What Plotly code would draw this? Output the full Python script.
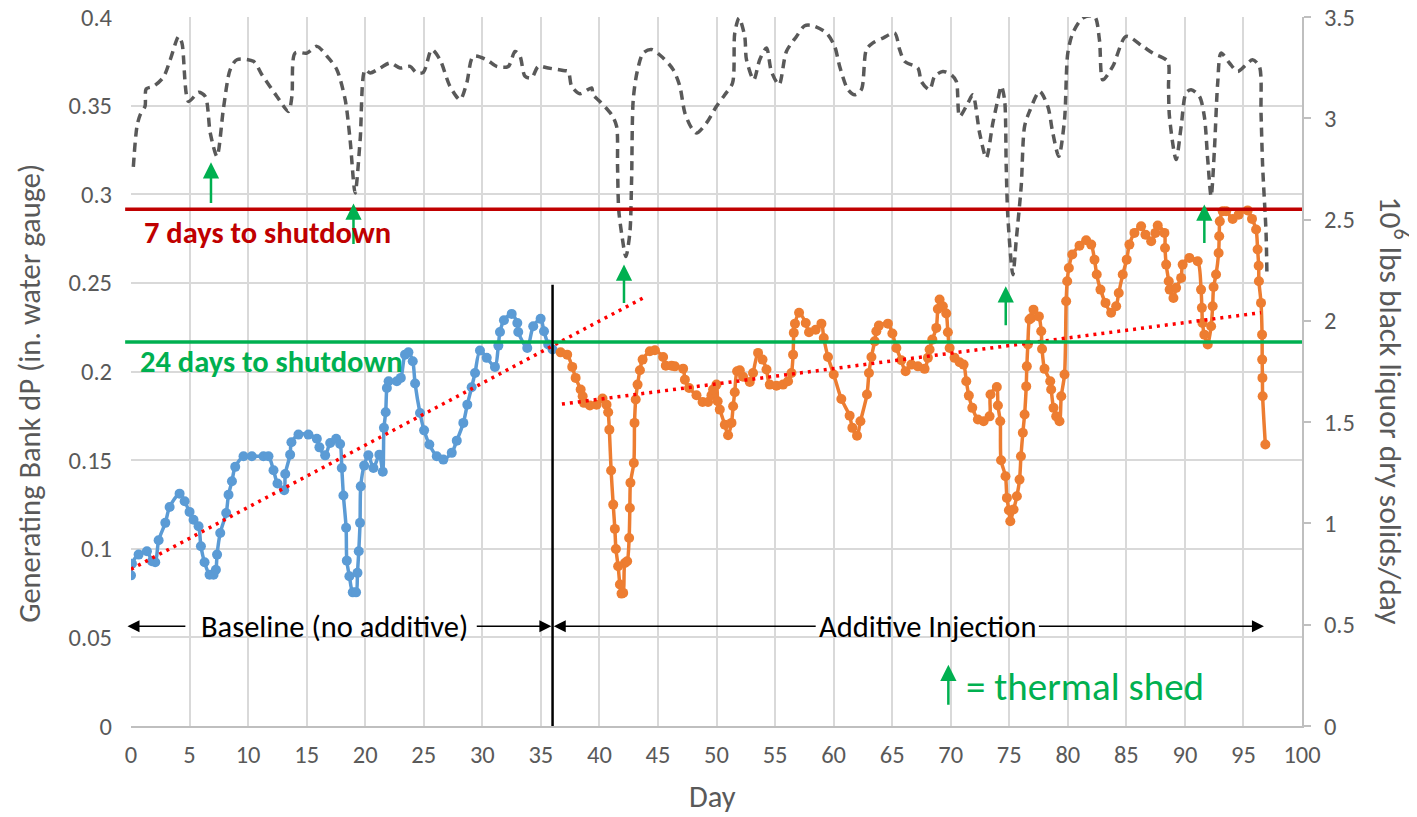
import plotly.graph_objects as go

# ---------------- data ----------------
baseline_day = [0.0, 0.08, 0.65, 1.36, 1.79, 2.07, 2.36, 2.93, 3.30, 4.15,
                4.58, 5.00, 5.34, 5.77, 5.97, 6.28, 6.71, 7.05, 7.25, 7.35,
                7.62, 8.13, 8.33, 8.62, 8.90, 9.61, 10.32, 11.31, 11.74, 12.17,
                12.51, 13.08, 13.17, 13.59, 13.70, 14.30, 15.15, 15.87, 16.09, 16.58,
                17.01, 17.52, 17.86, 18.00, 18.14, 18.37, 18.43, 18.65, 18.94, 19.22,
                19.34, 19.45, 19.56, 19.62, 19.91, 20.27, 20.70, 21.21, 21.50, 21.60,
                21.75, 21.85, 22.00, 22.70, 23.04, 23.40, 23.69, 24.06, 24.26, 24.68,
                25.03, 25.48, 26.11, 26.67, 27.39, 27.82, 28.38, 28.72, 29.09, 29.38,
                29.80, 30.38, 31.08, 31.37, 31.51, 31.85, 32.51, 32.99, 33.07, 33.84,
                34.35, 34.98, 35.27, 35.63, 36.00]
baseline_dp = [0.085, 0.0916, 0.0967, 0.0986, 0.0929, 0.0924, 0.1048, 0.1146, 0.1236, 0.1311,
               0.1268, 0.1208, 0.1164, 0.1127, 0.1014, 0.0924, 0.0854, 0.0854, 0.0882, 0.0967,
               0.1089, 0.1202, 0.1305, 0.1381, 0.1462, 0.1522, 0.1522, 0.1522, 0.1522, 0.1443,
               0.1368, 0.1330, 0.1422, 0.1531, 0.1601, 0.1644, 0.1644, 0.1621, 0.1572, 0.1527,
               0.1597, 0.1621, 0.1591, 0.1456, 0.1300, 0.1118, 0.0933, 0.0845, 0.0754, 0.0754,
               0.0864, 0.0986, 0.1146, 0.1352, 0.1469, 0.1527, 0.1456, 0.1531, 0.1434, 0.1682,
               0.1770, 0.1907, 0.1945, 0.1945, 0.1964, 0.2095, 0.2108, 0.2058, 0.1932, 0.1766,
               0.1668, 0.1588, 0.1522, 0.1503, 0.1541, 0.1610, 0.1710, 0.1813, 0.1911, 0.1992,
               0.2118, 0.2077, 0.2026, 0.2146, 0.2223, 0.2289, 0.2325, 0.2274, 0.2223, 0.2133,
               0.2255, 0.2297, 0.2227, 0.2152, 0.2124]

additive_day = [36.69, 37.25, 37.68, 37.97, 38.40, 38.57, 38.68, 39.19, 39.76, 40.27,
                40.61, 40.75, 40.85, 41.00, 41.18, 41.32, 41.41, 41.60, 41.75, 41.89,
                42.03, 42.18, 42.37, 42.54, 42.60, 42.65, 42.94, 43.00, 43.10, 43.26,
                43.46, 43.69, 44.31, 44.74, 45.44, 45.67, 46.16, 46.44, 47.15, 47.30,
                47.66, 48.29, 48.81, 49.28, 49.57, 49.71, 50.00, 50.10, 50.28, 50.71,
                50.99, 51.28, 51.42, 51.56, 51.76, 51.99, 52.27, 52.84, 53.12, 53.55,
                53.93, 54.27, 54.55, 55.12, 55.68, 56.11, 56.40, 56.54, 56.60, 56.70,
                57.05, 57.62, 57.90, 58.47, 58.96, 59.16, 59.52, 60.01, 60.66, 61.37,
                61.60, 62.00, 62.29, 62.85, 63.02, 63.23, 63.51, 63.65, 63.87, 64.64,
                65.02, 65.36, 65.78, 66.15, 66.64, 67.20, 67.77, 68.05, 68.20, 68.43,
                68.77, 68.90, 69.05, 69.33, 69.62, 69.76, 69.91, 70.33, 70.76, 71.10,
                71.33, 71.55, 71.84, 72.32, 72.81, 73.32, 73.40, 73.94, 74.03, 74.23,
                74.30, 74.68, 74.80, 74.97, 75.09, 75.37, 75.65, 75.88, 76.00, 76.16,
                76.31, 76.45, 76.50, 76.59, 76.73, 76.88, 77.07, 77.53, 77.73, 77.80,
                78.01, 78.50, 78.58, 78.78, 79.01, 79.29, 79.44, 79.72, 79.86, 79.95,
                80.09, 80.38, 81.00, 81.57, 82.00, 82.28, 82.47, 82.79, 83.22, 83.70,
                84.13, 84.35, 84.69, 85.03, 85.26, 85.69, 86.26, 86.63, 87.12, 87.48,
                87.68, 88.25, 88.30, 88.40, 88.62, 88.70, 89.02, 89.25, 89.68, 89.81,
                90.38, 91.09, 91.38, 91.45, 91.50, 91.66, 91.95, 92.24, 92.37, 92.45,
                92.66, 92.88, 92.93, 92.98, 93.23, 93.52, 94.08, 94.59, 95.36, 95.73,
                96.08, 96.21, 96.30, 96.32, 96.50, 96.59, 96.60, 96.62, 96.64, 96.87]
additive_dp = [0.2108, 0.2095, 0.2026, 0.1964, 0.1898, 0.1860, 0.1823, 0.1808, 0.1813, 0.1847,
               0.1813, 0.1770, 0.1672, 0.1441, 0.1249, 0.1112, 0.0999, 0.0901, 0.0798, 0.0747,
               0.0751, 0.0920, 0.0929, 0.1061, 0.1230, 0.1372, 0.1484, 0.1710, 0.1842, 0.1926,
               0.2007, 0.2067, 0.2114, 0.2120, 0.2082, 0.2033, 0.2033, 0.2029, 0.2016, 0.1954,
               0.1907, 0.1866, 0.1828, 0.1828, 0.1866, 0.1898, 0.1926, 0.1832, 0.1785, 0.1700,
               0.1640, 0.1710, 0.1804, 0.1883, 0.2001, 0.2007, 0.1970, 0.1941, 0.1992, 0.2105,
               0.2067, 0.2011, 0.1926, 0.1920, 0.1926, 0.1945, 0.1992, 0.2095, 0.2218, 0.2270,
               0.2331, 0.2274, 0.2221, 0.2236, 0.2270, 0.2189, 0.2082, 0.1983, 0.1845, 0.1751,
               0.1682, 0.1638, 0.1719, 0.1870, 0.1992, 0.2082, 0.2170, 0.2227, 0.2259, 0.2270,
               0.2214, 0.2133, 0.2063, 0.2001, 0.2039, 0.2029, 0.2015, 0.2077, 0.2124, 0.2180,
               0.2246, 0.2353, 0.2406, 0.2368, 0.2327, 0.2221, 0.2133, 0.2077, 0.2052, 0.2039,
               0.1945, 0.1864, 0.1795, 0.1729, 0.1719, 0.1747, 0.1870, 0.1913, 0.1808, 0.1719,
               0.1499, 0.1409, 0.1287, 0.1217, 0.1155, 0.1221, 0.1296, 0.1390, 0.1522, 0.1654,
               0.1757, 0.1916, 0.2029, 0.2152, 0.2293, 0.2302, 0.2349, 0.2311, 0.2227, 0.2127,
               0.2015, 0.1945, 0.1898, 0.1795, 0.1747, 0.1719, 0.1860, 0.1983, 0.2396, 0.2509,
               0.2584, 0.2660, 0.2710, 0.2740, 0.2716, 0.2631, 0.2547, 0.2462, 0.2387, 0.2331,
               0.2368, 0.2443, 0.2547, 0.2631, 0.2716, 0.2782, 0.2819, 0.2772, 0.2735, 0.2782,
               0.2823, 0.2782, 0.2697, 0.2603, 0.2509, 0.2462, 0.2415, 0.2472, 0.2528, 0.2603,
               0.2641, 0.2622, 0.2462, 0.2359, 0.2274, 0.2208, 0.2152, 0.2255, 0.2368, 0.2477,
               0.2547, 0.2669, 0.2763, 0.2847, 0.2904, 0.2904, 0.2861, 0.2885, 0.2909, 0.2861,
               0.2801, 0.2688, 0.2597, 0.2509, 0.2387, 0.2208, 0.2067, 0.1964, 0.1860, 0.1588]

solids_day = [0.20, 0.51, 0.79, 1.20, 1.30, 1.93, 2.78, 3.35, 4.07, 4.35,
              4.92, 5.77, 6.34, 6.77, 7.34, 7.90, 8.47, 9.04, 10.46, 11.18,
              12.46, 13.45, 13.74, 14.02, 15.02, 15.87, 16.86, 17.58, 18.29, 18.71,
              19.14, 19.57, 19.99, 20.42, 21.27, 22.13, 22.98, 23.83, 24.40, 24.97,
              25.68, 26.39, 27.24, 28.10, 28.67, 29.23, 30.37, 31.23, 32.22, 32.79,
              33.22, 33.65, 34.21, 34.78, 35.63, 36.91, 37.34, 37.63, 38.34, 39.33,
              39.47, 40.04, 41.04, 41.47, 41.55, 41.65, 41.89, 42.26, 42.60, 42.75,
              42.89, 43.23, 43.74, 44.45, 45.44, 46.30, 46.87, 47.30, 47.87, 48.29,
              49.15, 50.00, 50.71, 51.37, 51.56, 51.93, 52.41, 52.56, 53.18, 53.69,
              54.27, 54.69, 55.34, 55.97, 56.83, 57.53, 58.24, 59.39, 60.09, 60.52,
              61.23, 61.80, 62.37, 62.80, 63.36, 64.22, 65.21, 65.64, 66.07, 67.20,
              67.49, 68.20, 68.63, 69.33, 70.05, 70.48, 70.76, 71.47, 71.89, 72.47,
              73.04, 73.60, 74.03, 74.32, 74.60, 74.74, 74.88, 75.31, 75.60, 76.02,
              76.31, 76.73, 77.59, 78.29, 78.72, 79.23, 79.72, 80.00, 80.43, 81.28,
              82.28, 82.70, 82.99, 83.84, 84.98, 86.40, 87.25, 88.53, 88.60, 88.68,
              89.25, 89.68, 90.10, 90.53, 91.24, 91.66, 91.95, 92.24, 92.52, 92.80,
              93.09, 93.80, 94.51, 95.22, 95.78, 96.36, 96.50, 96.64, 96.93, 97.00]
solids_rate = [2.760, 2.960, 3.018, 3.059, 3.145, 3.158, 3.204, 3.289, 3.404, 3.372,
               3.083, 3.128, 3.108, 2.927, 2.812, 3.051, 3.240, 3.289, 3.281, 3.215,
               3.108, 3.034, 3.108, 3.322, 3.322, 3.355, 3.298, 3.240, 3.092, 2.894,
               2.631, 2.894, 3.240, 3.224, 3.248, 3.273, 3.248, 3.256, 3.224, 3.227,
               3.339, 3.289, 3.158, 3.092, 3.174, 3.306, 3.289, 3.256, 3.256, 3.330,
               3.306, 3.207, 3.199, 3.256, 3.248, 3.236, 3.231, 3.158, 3.121, 3.150,
               3.116, 3.083, 3.018, 2.960, 2.763, 2.549, 2.434, 2.318, 2.434, 2.697,
               3.092, 3.231, 3.322, 3.339, 3.298, 3.240, 3.158, 3.026, 2.952, 2.927,
               2.977, 3.059, 3.116, 3.174, 3.421, 3.495, 3.404, 3.289, 3.190, 3.289,
               3.347, 3.231, 3.166, 3.330, 3.404, 3.457, 3.457, 3.421, 3.355, 3.256,
               3.141, 3.116, 3.141, 3.339, 3.372, 3.396, 3.421, 3.339, 3.281, 3.248,
               3.182, 3.141, 3.207, 3.231, 3.215, 3.182, 3.009, 3.075, 3.116, 2.927,
               2.804, 2.977, 3.092, 3.158, 3.092, 2.763, 2.516, 2.228, 2.401, 2.664,
               2.960, 3.034, 3.133, 3.059, 2.927, 2.812, 2.993, 3.322, 3.421, 3.495,
               3.503, 3.388, 3.190, 3.256, 3.404, 3.355, 3.322, 3.281, 3.158, 3.009,
               2.796, 2.960, 3.125, 3.141, 3.108, 3.009, 2.796, 2.615, 2.845, 3.174,
               3.322, 3.273, 3.231, 3.264, 3.289, 3.256, 3.026, 2.763, 2.434, 2.244]

# linear trend lines (endpoints as drawn)
trend_base_day = [0.0, 43.9]
trend_base_dp = [0.0884, 0.2421]
trend_add_day = [36.8, 96.5]
trend_add_dp = [0.1816, 0.2332]

# reference levels
level_7day = 0.2915
level_24day = 0.2167
injection_start_day = 36.0
injection_line_top = 0.249

# thermal shed events: (day, tail value, head value)
shed_day = [6.83, 19.0, 42.1, 74.7, 91.66]
shed_tail = [0.2942, 0.2711, 0.2378, 0.2252, 0.2716]
shed_head = [0.3180, 0.2948, 0.2604, 0.2481, 0.2942]

FONT = "Carlito, Calibri, Lato, sans-serif"
GRAY_TXT = "#595959"
BLUE = "#5B9BD5"
ORANGE = "#ED7D31"
RED_DARK = "#C00000"
GREEN = "#00B050"

fig = go.Figure()

fig.add_trace(go.Scatter(
    x=solids_day, y=solids_rate, yaxis="y2", mode="lines",
    line=dict(color="#595959", width=3.5, dash="9px,6px", shape="spline", smoothing=0.8),
    showlegend=False, hoverinfo="skip"))

fig.add_trace(go.Scatter(
    x=baseline_day, y=baseline_dp, mode="lines+markers",
    line=dict(color=BLUE, width=3.5, shape="spline", smoothing=0.8),
    marker=dict(color=BLUE, size=10), showlegend=False))

fig.add_trace(go.Scatter(
    x=additive_day, y=additive_dp, mode="lines+markers",
    line=dict(color=ORANGE, width=3.5, shape="spline", smoothing=0.8),
    marker=dict(color=ORANGE, size=10), showlegend=False))

for tx, ty in ((trend_base_day, trend_base_dp), (trend_add_day, trend_add_dp)):
    fig.add_trace(go.Scatter(
        x=tx, y=ty, mode="lines",
        line=dict(color="#FF0000", width=3.5, dash="3px,5px"),
        showlegend=False, hoverinfo="skip"))

shapes = [
    dict(type="line", xref="paper", yref="y", x0=-0.005, x1=1, y0=level_7day, y1=level_7day,
         line=dict(color=RED_DARK, width=3.5)),
    dict(type="line", xref="paper", yref="y", x0=-0.005, x1=1, y0=level_24day, y1=level_24day,
         line=dict(color=GREEN, width=3.5)),
    dict(type="line", xref="x", yref="y", x0=injection_start_day, x1=injection_start_day,
         y0=0, y1=injection_line_top, line=dict(color="black", width=2.5)),
]

annotations = []
for d, t, h in zip(shed_day, shed_tail, shed_head):
    annotations.append(dict(x=d, y=h, ax=d, ay=t, xref="x", yref="y", axref="x", ayref="y",
                            text="", showarrow=True, arrowhead=2, arrowsize=1.3,
                            arrowwidth=2.5, arrowcolor=GREEN, standoff=0, startstandoff=0))

# legend arrow for thermal shed
annotations.append(dict(x=69.8, y=0.0346, ax=69.8, ay=0.0111, xref="x", yref="y",
                        axref="x", ayref="y", text="", showarrow=True, arrowhead=2,
                        arrowsize=1.3, arrowwidth=2.5, arrowcolor=GREEN, standoff=0))
annotations.append(dict(x=71.17, y=0.0224, xref="x", yref="y", text="= thermal shed",
                        showarrow=False, xanchor="left", yanchor="middle",
                        font=dict(family=FONT, size=39, color=GREEN)))

# period arrows
arrow_y = 0.0563
period_arrows = [(-0.3, 4.77), (35.9, 29.4), (36.1, 58.6), (96.75, 77.4)]
for head, tail in period_arrows:
    annotations.append(dict(x=head, y=arrow_y, ax=tail, ay=arrow_y, xref="x", yref="y",
                            axref="x", ayref="y", text="", showarrow=True, arrowhead=2,
                            arrowsize=1.6, arrowwidth=1.5, arrowcolor="black", standoff=0))
annotations.append(dict(x=17.38, y=arrow_y, xref="x", yref="y", text="Baseline (no additive)",
                        showarrow=False, font=dict(family=FONT, size=30.5, color="black")))
annotations.append(dict(x=68.0, y=arrow_y, xref="x", yref="y", text="Additive Injection",
                        showarrow=False, font=dict(family=FONT, size=30.5, color="black")))

annotations.append(dict(x=0.9, y=0.2783, xref="x", yref="y", text="<b>7 days to shutdown</b>",
                        showarrow=False, xanchor="left", yanchor="middle",
                        font=dict(family=FONT, size=30.5, color=RED_DARK)))
annotations.append(dict(x=0.6, y=0.2058, xref="x", yref="y", text="<b>24 days to shutdown</b>",
                        showarrow=False, xanchor="left", yanchor="middle",
                        font=dict(family=FONT, size=30.5, color=GREEN)))

# axis titles
annotations.append(dict(x=-0.0868, y=0.469, xref="paper", yref="paper", textangle=-90,
                        text="Generating Bank dP (in. water gauge)", showarrow=False,
                        xanchor="center", yanchor="middle",
                        font=dict(family=FONT, size=30.5, color=GRAY_TXT)))
annotations.append(dict(x=1.0786, y=0.4448, xref="paper", yref="paper", textangle=90,
                        text="10<sup>6</sup> lbs black liquor dry solids/day", showarrow=False,
                        xanchor="center", yanchor="middle",
                        font=dict(family=FONT, size=31.5, color=GRAY_TXT)))
annotations.append(dict(x=0.4963, y=-0.0996, xref="paper", yref="paper", text="Day",
                        showarrow=False, xanchor="center", yanchor="middle",
                        font=dict(family=FONT, size=30.5, color=GRAY_TXT)))

TICKFONT = dict(size=24.5, color=GRAY_TXT, family=FONT)

# the page body adds an 8px offset, so the figure is sized to fill the rest of the window
fig.update_layout(
    width=1409, height=809, autosize=False,
    margin=dict(l=123, r=115, t=9, b=91),
    plot_bgcolor="white", paper_bgcolor="white",
    font=dict(family=FONT, color=GRAY_TXT),
    shapes=shapes, annotations=annotations,
    xaxis=dict(range=[0, 100], tick0=0, dtick=5, showgrid=True, gridcolor="#D9D9D9",
               gridwidth=1.5, zeroline=False, showline=True, linecolor="#BFBFBF",
               linewidth=2, ticks="", tickfont=TICKFONT, ticklabelstandoff=6,
               automargin=False),
    yaxis=dict(range=[0, 0.4], tick0=0, dtick=0.05, showgrid=True, gridcolor="#D9D9D9",
               gridwidth=1.5, zeroline=False, showline=False, ticks="",
               tickfont=TICKFONT, ticklabelstandoff=18, automargin=False,
               ticklabeloverflow="allow"),
    yaxis2=dict(range=[0, 3.5], tick0=0, dtick=0.5, overlaying="y", side="right",
                showgrid=False, zeroline=False, showline=True, linecolor="#BFBFBF",
                linewidth=2, ticks="outside", ticklen=7, tickcolor="#BFBFBF", tickwidth=2,
                tickfont=TICKFONT, ticklabelstandoff=8, automargin=False,
                ticklabeloverflow="allow"),
)

fig.write_html("out.html")
